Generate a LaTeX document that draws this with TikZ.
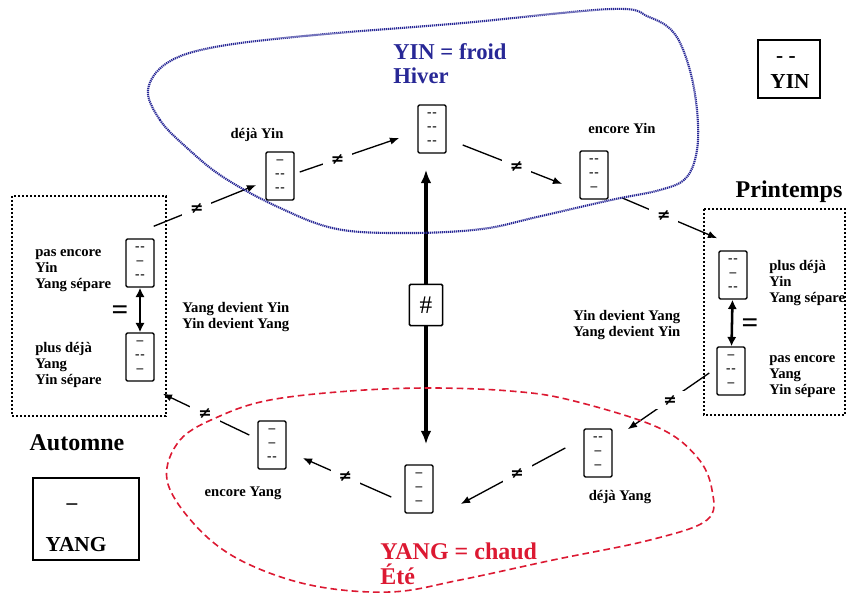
\documentclass[tikz,border=0pt]{standalone}
\usepackage{fontspec}
\setmainfont{Liberation Serif}
\newfontfamily\symfont{DejaVu Sans}
\usetikzlibrary{arrows.meta,positioning}
\definecolor{yinblue}{RGB}{40,40,150}
\definecolor{yangred}{RGB}{220,25,50}
\newcommand{\yinl}{-\kern.6pt-}
\newcommand{\yangl}{\textendash}
\begin{document}
\begin{tikzpicture}[x=0.75pt, y=-0.75pt,
    gua/.style={draw, line width=1.1pt, rounded corners=1pt, minimum width=21pt, minimum height=36pt,
      inner sep=0pt, align=center, font=\fontsize{10}{10.5}\selectfont\bfseries},
    lbl/.style={font=\fontsize{11}{12}\selectfont\bfseries, align=left, inner sep=0pt},
    big/.style={font=\fontsize{18}{19}\selectfont\bfseries, align=left, inner sep=0pt},
    neqmark/.style={fill=white, inner sep=0pt, minimum width=22pt, minimum height=14pt,
      font=\fontsize{12}{12}\selectfont\symfont\bfseries},
    flow/.style={-{Latex[length=7pt,width=5.5pt]}, line width=1pt},
    twoway/.style={{Latex[length=7pt,width=7pt]}-{Latex[length=7pt,width=7pt]}, line width=1.9pt},
    axis/.style={-{Latex[length=10pt,width=8pt]}, line width=2.5pt},
    saison/.style={line width=1.5pt, dash pattern=on 1.5pt off 1.5pt}]
  \useasboundingbox (0,0) rectangle (853,595);
  % the eight trigrams
  \node[gua] (hiver) at (432,129) {\yinl\\\yinl\\\yinl};
  \node[gua] (dejayin) at (280,176) {\yangl\\\yinl\\\yinl};
  \node[gua] (encoreyin) at (594,175) {\yinl\\\yinl\\\yangl};
  \node[gua] (pasencoreyin) at (140,263) {\yinl\\\yangl\\\yinl};
  \node[gua] (plusdejayang) at (140,357) {\yangl\\\yinl\\\yangl};
  \node[gua] (plusdejayin) at (733,275) {\yinl\\\yangl\\\yinl};
  \node[gua] (pasencoreyang) at (731,371) {\yangl\\\yinl\\\yangl};
  \node[gua] (dejayang) at (598,453) {\yinl\\\yangl\\\yangl};
  \node[gua] (ete) at (419,489) {\yangl\\\yangl\\\yangl};
  \node[gua] (encoreyang) at (272,445) {\yangl\\\yangl\\\yinl};
  \node[draw, line width=1.1pt, rounded corners=1pt, minimum width=25pt, minimum height=31pt,
    inner sep=0pt, font=\fontsize{19}{19}\selectfont] (diese) at (426,305) {\#};
  % labels
  \node[lbl] at (257,135) {déjà Yin};
  \node[lbl] at (622,128) {encore Yin};
  \node[lbl] at (243,493) {encore Yang};
  \node[lbl] at (620,497) {déjà Yang};
  \node[lbl, anchor=west] at (35,271) {pas encore\\Yin\\Yang sépare};
  \node[lbl, anchor=west] at (35,365) {plus déjà\\Yang\\Yin sépare};
  \node[lbl, anchor=west] at (769,283) {plus déjà\\Yin\\Yang sépare};
  \node[lbl, anchor=west] at (769,377) {pas encore\\Yang\\Yin sépare};
  \node[lbl, anchor=west] at (182,317) {Yang devient Yin\\Yin devient Yang};
  \node[lbl, anchor=west] at (573,325) {Yin devient Yang\\Yang devient Yin};
  \node[big, anchor=west, text=yinblue, font=\fontsize{17}{18}\selectfont\bfseries] at (393,64) {YIN = froid\\Hiver};
  \node[big, anchor=west, text=yangred, font=\fontsize{18}{19}\selectfont\bfseries] at (380,564) {YANG = chaud\\Été};
  \node[big] at (789,192) {Printemps};
  \node[big] at (77,443) {Automne};
  \node[font=\fontsize{22}{22}\selectfont\bfseries, inner sep=0pt] at (120,313) {=};
  \node[font=\fontsize{22}{22}\selectfont\bfseries, inner sep=0pt] at (750,326) {=};
  % legend
  \node[draw, line width=1.1pt, minimum width=79.5pt, minimum height=61.5pt] (yangkey) at (86,519) {};
  \node[font=\fontsize{16}{16}\selectfont\bfseries] at (72,507) {\textendash};
  \node[font=\fontsize{16}{16}\selectfont\bfseries] at (76,545) {YANG};
  \node[draw, line width=1.1pt, minimum width=46.5pt, minimum height=43.5pt] (yinkey) at (789,69) {};
  \node[font=\fontsize{16}{16}\selectfont\bfseries] at (786,60) {- -};
  \node[font=\fontsize{16}{16}\selectfont\bfseries] at (790,82) {YIN};
  % autumn and spring
  \draw[saison] (12,196) rectangle (166,416);
  \draw[saison] (704,209) rectangle (845,415);
  % cycle
  \draw[flow] ([shift={(-1,-12)}]pasencoreyin.north east) -- node[neqmark, pos=.42]{≠} ([shift={(-9,9)}]dejayin.west);
  \draw[flow] ([shift={(5,-4)}]dejayin.east) -- node[neqmark, pos=.38]{≠} ([shift={(-18,9)}]hiver.west);
  \draw[flow] ([shift={(16,16)}]hiver.east) -- node[neqmark, pos=.54]{≠} ([shift={(-17,9)}]encoreyin.west);
  \draw[flow] ([shift={(13,-2)}]encoreyin.south east) -- node[neqmark, pos=.44]{≠} ([shift={(-1,-12)}]plusdejayin.north west);
  \draw[flow] ([shift={(-7,2)}]pasencoreyang.west) -- node[neqmark, pos=.48]{≠} ([shift={(15,1)}]dejayang.north east);
  \draw[flow] ([shift={(-18,-5)}]dejayang.west) -- node[neqmark, pos=.46]{≠} ([shift={(27,15)}]ete.east);
  \draw[flow] ([shift={(-13,8)}]ete.west) -- node[neqmark, pos=.52]{≠} ([shift={(16,13)}]encoreyang.east);
  \draw[flow] ([shift={(-8,-10)}]encoreyang.west) -- node[neqmark, pos=.51]{≠} ([shift={(8,12)}]plusdejayang.south east);
  \draw[twoway] (pasencoreyin) -- (plusdejayang);
  \draw[twoway] (plusdejayin) -- (pasencoreyang);
  % winter - summer axis
  \draw[axis, shorten >=12pt] (diese.north) -- (diese.north |- hiver.south);
  \draw[axis, shorten >=15pt] (diese.south) -- (diese.south |- ete.north);
  % yin and yang regions
  \draw[yinblue, line width=1.6pt, dash pattern=on 0.9pt off 0.6pt] plot[smooth cycle, tension=0.6] coordinates {
    (148,90) (160,120) (186,147) (223,177) (278,207) (337,229) (410,233) (482,229) (537,217)
    (611,200) (660,190) (686,178) (697,150) (697,110) (689,67) (674,33) (649,17) (612,9)
    (463,23) (315,35) (215,47) (167,63)};
  \draw[yangred, line width=1.2pt, dash pattern=on 5pt off 3pt] plot[smooth cycle, tension=0.6] coordinates {
    (270,400) (350,391) (430,388) (510,391) (570,400) (657,427) (697,457) (712,490) (707,520)
    (650,540) (553,560) (460,580) (390,592) (310,585) (240,560) (195,525) (167,480) (180,440) (220,416)};
\end{tikzpicture}
\end{document}
